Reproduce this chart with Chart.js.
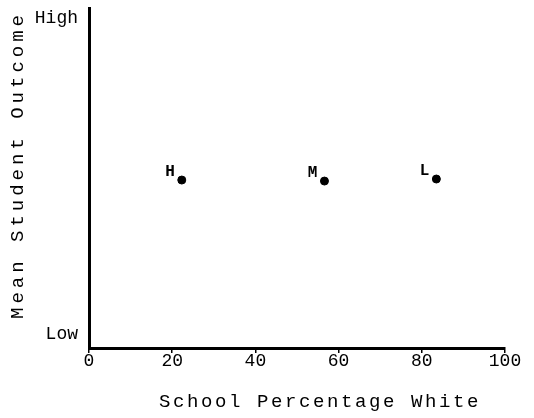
<!DOCTYPE html>
<html>
<head>
<meta charset="utf-8">
<script src="https://cdn.jsdelivr.net/npm/chart.js@4"></script>
<style>
  html, body { margin: 0; padding: 0; background: #fff; }
  #wrap { width: 534px; height: 418px; }
</style>
</head>
<body>
<div id="wrap"><canvas id="chart01"></canvas></div>
<script>
// データ
var schoolLabels = ["H", "M", "L"];          // 学校の区分
var percentWhite = [22.3, 56.6, 83.5];       // School Percentage White
var meanOutcome = [49.4, 49.1, 49.7];        // Mean Student Outcome (0 = Low, 100 = High)
var xTicks = [0, 20, 40, 60, 80, 100];
var yTickValues = [4, 97];
var yTickLabels = ["Low", "High"];
var xTitle = "School Percentage White";
var yTitle = "Mean Student Outcome";

var FONT = "'Liberation Mono', 'DejaVu Sans Mono', monospace";

// 点の横に H / M / L を書く
var pointLabelPlugin = {
  id: 'pointLabels',
  afterDatasetsDraw: function (chart) {
    var ctx = chart.ctx;
    var meta = chart.getDatasetMeta(0);
    ctx.save();
    ctx.fillStyle = '#000';
    ctx.font = 'bold 16px ' + FONT;
    ctx.textAlign = 'right';
    ctx.textBaseline = 'middle';
    meta.data.forEach(function (pt, i) {
      ctx.fillText(schoolLabels[i], pt.x - 7, pt.y - 8);
    });
    ctx.restore();
  }
};

// 軸タイトル（字間をあける）
var axisTitlePlugin = {
  id: 'axisTitles',
  afterDraw: function (chart) {
    var ctx = chart.ctx;
    var area = chart.chartArea;
    ctx.save();
    ctx.fillStyle = '#000';
    ctx.font = '19px ' + FONT;
    ctx.textAlign = 'center';
    ctx.textBaseline = 'middle';
    ctx.letterSpacing = '2.6px';
    ctx.fillText(xTitle, 320, 402);
    ctx.translate(18, 165);
    ctx.rotate(-Math.PI / 2);
    ctx.letterSpacing = '4px';
    ctx.fillText(yTitle, 0, 0);
    ctx.restore();
  }
};

var ctx = document.getElementById('chart01').getContext('2d');
var chart = new Chart(ctx, {
  type: 'scatter',
  data: {
    datasets: [{
      label: "Schools",
      data: percentWhite.map(function (x, i) { return { x: x, y: meanOutcome[i] }; }),
      backgroundColor: '#000',
      borderColor: '#000',
      pointRadius: 4
    }]
  },
  options: {
    responsive: true,
    maintainAspectRatio: false,
    animation: false,
    layout: { padding: { top: 8, right: 29, left: 0, bottom: 0 } },
    plugins: {
      legend: { display: false },
      tooltip: { enabled: false }
    },
    scales: {
      x: {
        type: 'linear',
        min: 0,
        max: 100,
        afterBuildTicks: function (scale) {
          scale.ticks = xTicks.map(function (v) { return { value: v }; });
        },
        afterFit: function (scale) {
          scale.height = 70;
          scale.paddingLeft = 0;
          scale.paddingRight = 0;
        },
        grid: { drawOnChartArea: false, tickLength: 5, color: '#000', lineWidth: 1.5 },
        border: { display: true, color: '#000', width: 3 },
        ticks: {
          color: '#000',
          padding: -3,
          maxRotation: 0,
          font: { family: FONT, size: 18 }
        }
      },
      y: {
        type: 'linear',
        min: 0,
        max: 100,
        afterBuildTicks: function (scale) {
          scale.ticks = yTickValues.map(function (v) { return { value: v }; });
        },
        afterFit: function (scale) {
          scale.width = 89;
          scale.paddingTop = 0;
          scale.paddingBottom = 0;
        },
        grid: { display: false, drawTicks: false },
        border: { display: true, color: '#000', width: 3 },
        ticks: {
          color: '#000',
          padding: 11,
          font: { family: FONT, size: 18 },
          callback: function (value) {
            var i = yTickValues.indexOf(value);
            return i >= 0 ? yTickLabels[i] : '';
          }
        }
      }
    }
  },
  plugins: [pointLabelPlugin, axisTitlePlugin]
});
</script>
</body>
</html>
